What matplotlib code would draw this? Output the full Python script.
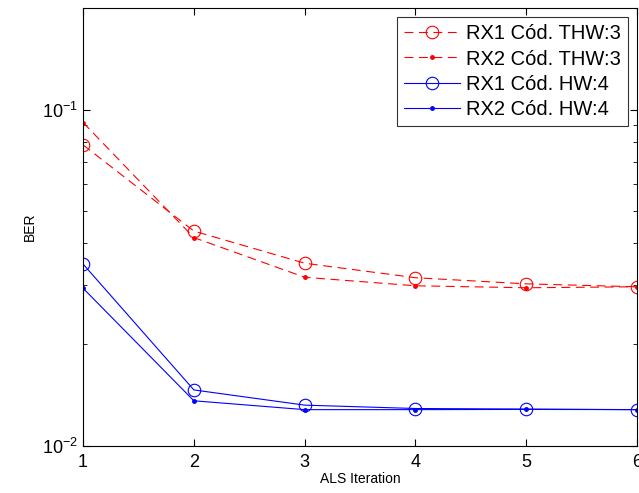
import numpy as np
import matplotlib.pyplot as plt
from matplotlib.ticker import LogLocator, NullFormatter

plt.rcParams['font.family'] = ['Liberation Sans', 'DejaVu Sans']
plt.rcParams['mathtext.fontset'] = 'custom'
plt.rcParams['mathtext.rm'] = 'Liberation Sans'

iters = [1, 2, 3, 4, 5, 6]
rx1_thw = [0.0785, 0.0435, 0.0349, 0.0316, 0.0303, 0.0297]
rx2_thw = [0.0915, 0.0416, 0.0317, 0.0299, 0.0295, 0.0297]
rx1_hw = [0.0347, 0.01465, 0.0132, 0.0129, 0.01285, 0.0128]
rx2_hw = [0.0294, 0.0136, 0.0128, 0.0128, 0.01282, 0.0128]

fig = plt.figure(figsize=(6.39, 4.93), dpi=100)
ax = fig.add_axes([0.130, 0.096, 0.867, 0.887])

dash = (0, (8, 5))
ax.semilogy(iters, rx1_thw, color='red', linestyle=dash, lw=0.8, marker='o',
            markersize=9, markerfacecolor='none', markeredgewidth=0.8, label='RX1 Cód. THW:3')
ax.semilogy(iters, rx2_thw, color='red', linestyle=dash, lw=0.8, marker='.',
            markersize=5, label='RX2 Cód. THW:3')
ax.semilogy(iters, rx1_hw, color='blue', linestyle='-', lw=0.8, marker='o',
            markersize=9, markerfacecolor='none', markeredgewidth=0.8, label='RX1 Cód. HW:4')
ax.semilogy(iters, rx2_hw, color='blue', linestyle='-', lw=0.8, marker='.',
            markersize=5, label='RX2 Cód. HW:4')

ax.set_xlim(1, 6)
ax.set_ylim(0.01, 0.2)
ax.set_xticks(iters)
ax.yaxis.set_major_locator(LogLocator(base=10))
ax.yaxis.set_minor_locator(LogLocator(base=10, subs=np.arange(2, 10)))
ax.yaxis.set_minor_formatter(NullFormatter())
ax.tick_params(which='both', direction='in', top=True, right=True, labelsize=13)
ax.tick_params(which='major', length=5)
ax.tick_params(which='minor', length=3)
ax.tick_params(axis='x', pad=6)

ax.set_xlabel('ALS Iteration', fontsize=10, labelpad=1)
ax.set_ylabel('BER', fontsize=10, labelpad=4)

leg = ax.legend(loc='upper right', fontsize=14.5, frameon=True, fancybox=False,
                edgecolor='black', handlelength=2.8, labelspacing=0.3,
                borderpad=0.35, handletextpad=0.3, borderaxespad=0.45)
leg.get_frame().set_linewidth(0.8)

plt.savefig('out.png', dpi=100)
